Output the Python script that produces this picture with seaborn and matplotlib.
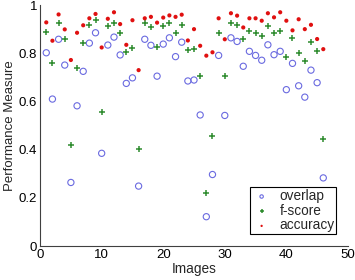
import matplotlib; matplotlib.use('Agg')
import numpy as np
import pandas as pd
import matplotlib.pyplot as plt
import seaborn as sns

images = list(range(1, 47))
overlap = [0.802, 0.610, 0.858, 0.751, 0.264, 0.582, 0.725, 0.842, 0.885, 0.385,
           0.834, 0.867, 0.793, 0.675, 0.698, 0.249, 0.858, 0.833, 0.705, 0.838,
           0.864, 0.786, 0.846, 0.685, 0.689, 0.544, 0.122, 0.297, 0.791, 0.542,
           0.864, 0.849, 0.746, 0.808, 0.791, 0.771, 0.835, 0.794, 0.808, 0.649,
           0.758, 0.665, 0.618, 0.730, 0.678, 0.283]
fscore = [0.889, 0.758, 0.924, 0.858, 0.420, 0.737, 0.841, 0.917, 0.938, 0.557,
          0.913, 0.927, 0.883, 0.806, 0.822, 0.401, 0.924, 0.907, 0.827, 0.913,
          0.927, 0.883, 0.918, 0.813, 0.816, 0.705, 0.219, 0.458, 0.883, 0.705,
          0.927, 0.917, 0.858, 0.893, 0.883, 0.871, 0.913, 0.885, 0.893, 0.786,
          0.864, 0.802, 0.766, 0.848, 0.809, 0.444]
accuracy = [0.928, 0.852, 0.961, 0.899, 0.772, 0.885, 0.916, 0.945, 0.963, 0.824,
            0.943, 0.970, 0.921, 0.835, 0.937, 0.730, 0.945, 0.951, 0.927, 0.948,
            0.957, 0.951, 0.960, 0.853, 0.900, 0.831, 0.790, 0.804, 0.945, 0.858,
            0.966, 0.956, 0.907, 0.945, 0.945, 0.935, 0.966, 0.949, 0.970, 0.935,
            0.895, 0.941, 0.900, 0.918, 0.859, 0.817]

df = pd.DataFrame({'Images': images, 'overlap': overlap,
                   'f-score': fscore, 'accuracy': accuracy})

sns.set_style('white')
plt.rcParams['font.family'] = ['Liberation Sans', 'DejaVu Sans']
plt.rcParams['font.size'] = 9.5

fig = plt.figure(figsize=(3.55, 2.8), dpi=100)
ax = fig.add_axes([0.113, 0.121, 0.867, 0.861])

sns.scatterplot(data=df, x='Images', y='overlap', ax=ax, marker='o',
                facecolor='none', edgecolor='#6a6ae0', linewidth=0.8, s=20,
                label='overlap')
sns.scatterplot(data=df, x='Images', y='f-score', ax=ax, marker='+',
                color='#2e8b2e', linewidth=1.1, s=24, label='f-score')
sns.scatterplot(data=df, x='Images', y='accuracy', ax=ax, marker='o',
                color='#e01010', edgecolor='none', s=9, label='accuracy')

ax.set_xlim(0, 50)
ax.set_ylim(0, 1)
ax.set_xticks([0, 10, 20, 30, 40, 50])
ax.set_yticks([0, 0.2, 0.4, 0.6, 0.8, 1])
ax.set_yticklabels(['0', '0.2', '0.4', '0.6', '0.8', '1'])
ax.set_xlabel('Images', labelpad=1, fontsize=9.8)
ax.set_ylabel('Performance Measure', labelpad=2, fontsize=9.5)
sns.despine(ax=ax)
for side in ['left', 'bottom']:
    ax.spines[side].set_color('#404040')
    ax.spines[side].set_linewidth(0.8)
ax.tick_params(direction='in', length=3, width=0.6, colors='black', pad=2,
               labelsize=9.5)

leg = ax.legend(loc='lower right', bbox_to_anchor=(0.985, 0.02), frameon=True,
                fancybox=False, edgecolor='black', framealpha=1,
                handletextpad=0.6, borderpad=0.15, labelspacing=0.05,
                handlelength=1.4, markerscale=0.55, fontsize=9.8)
leg.get_frame().set_linewidth(0.8)

fig.savefig('out.png', dpi=100)
